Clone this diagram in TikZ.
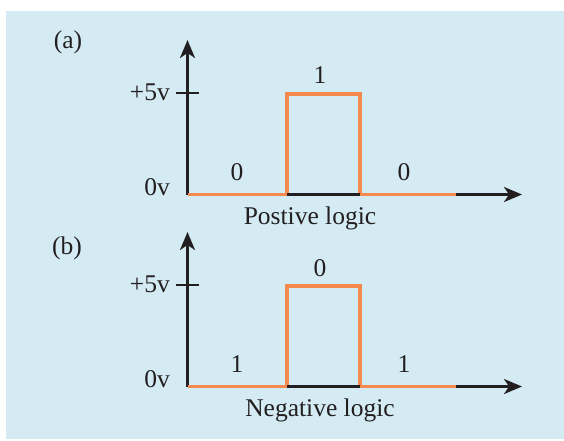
\documentclass[tikz,border=0pt]{standalone}
\usepackage{fontspec}
\setmainfont{Liberation Serif}
\usetikzlibrary{arrows.meta}
\definecolor{bgblue}{RGB}{212,235,244}
\definecolor{pulse}{RGB}{245,138,79}
\definecolor{axisc}{RGB}{35,31,32}
\begin{document}
\begin{tikzpicture}[x=1pt,y=-1pt,
  axisline/.style={draw=axisc,line width=2.6pt,-{Stealth[length=18pt,width=15pt,inset=5pt]}},
  tickline/.style={draw=axisc,line width=2.6pt},
  sig/.style={draw=pulse,line width=3.8pt},
  lab/.style={inner sep=0pt,font=\fontsize{25.5}{28}\selectfont,text=axisc}]
\useasboundingbox (0,0) rectangle (564,440);
\fill[bgblue] (6,11) rectangle (564,439);
% ---------- (a)
\coordinate (oA) at (187.5,194.5);
\coordinate (yA) at (187.5,40);
\coordinate (xA) at (522,194.5);
\draw[axisline] (oA) -- (yA);
\draw[axisline] (oA) -- (xA);
\coordinate (tA1) at (176,93);
\coordinate (tA2) at (199,93);
\draw[tickline] (tA1) -- (tA2);
\coordinate (pA1) at (287,194.5);
\coordinate (pA2) at (287,94);
\coordinate (pA3) at (360,94);
\coordinate (pA4) at (360,194.5);
\coordinate (pA5) at (456,194.5);
\draw[sig,line cap=butt] (oA) -- (pA1);
\draw[sig,line join=miter] ([yshift=1.9pt]pA1) -- (pA2) -- (pA3) -- ([yshift=1.9pt]pA4);
\draw[sig,line cap=butt] (pA4) -- (pA5);
\node[lab] (la) at (68,42) {(a)};
\node[lab,anchor=east] (v5a) at (170,92) {+5v};
\node[lab,anchor=east] (v0a) at (170,187) {0v};
\node[lab] (a0l) at (237,172) {0};
\node[lab] (a1) at (320,75) {1};
\node[lab] (a0r) at (404,172) {0};
\node[lab] (capa) at (310,218) {Postive logic};
% ---------- (b)
\coordinate (oB) at (187.5,386.5);
\coordinate (yB) at (187.5,232);
\coordinate (xB) at (522,386.5);
\draw[axisline] (oB) -- (yB);
\draw[axisline] (oB) -- (xB);
\coordinate (tB1) at (176,285);
\coordinate (tB2) at (199,285);
\draw[tickline] (tB1) -- (tB2);
\coordinate (pB1) at (287,386.5);
\coordinate (pB2) at (287,286);
\coordinate (pB3) at (360,286);
\coordinate (pB4) at (360,386.5);
\coordinate (pB5) at (456,386.5);
\draw[sig,line cap=butt] (oB) -- (pB1);
\draw[sig,line join=miter] ([yshift=1.9pt]pB1) -- (pB2) -- (pB3) -- ([yshift=1.9pt]pB4);
\draw[sig,line cap=butt] (pB4) -- (pB5);
\node[lab] (lb) at (67,248) {(b)};
\node[lab,anchor=east] (v5b) at (170,284) {+5v};
\node[lab,anchor=east] (v0b) at (170,379) {0v};
\node[lab] (b1l) at (237,364) {1};
\node[lab] (b0) at (320,268) {0};
\node[lab] (b1r) at (404,364) {1};
\node[lab] (capb) at (320,410) {Negative logic};
\end{tikzpicture}
\end{document}
